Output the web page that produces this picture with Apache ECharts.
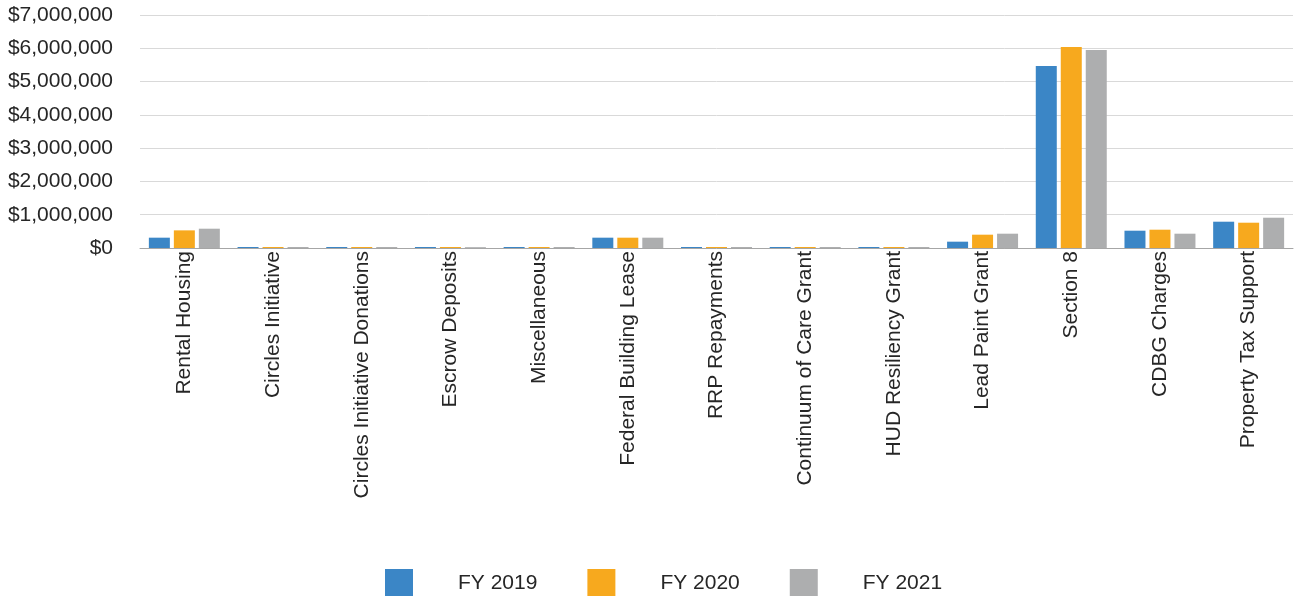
<!DOCTYPE html>
<html>
<head>
<meta charset="utf-8">
<script src="https://cdn.jsdelivr.net/npm/echarts@6/dist/echarts.min.js"></script>
<style>
html,body{margin:0;padding:0;background:#fff;}
#chart{width:1294px;height:596px;}
</style>
</head>
<body>
<div id="chart"></div>
<script>
const categories = ["Rental Housing","Circles Initiative","Circles Initiative Donations","Escrow Deposits","Miscellaneous","Federal Building Lease","RRP Repayments","Continuum of Care Grant","HUD Resiliency Grant","Lead Paint Grant","Section 8","CDBG Charges","Property Tax Support"];
const seriesNames = ["FY 2019","FY 2020","FY 2021"];
const fy2019 = [310000, 30000, 30000, 30000, 30000, 310000, 30000, 30000, 30000, 190000, 5470000, 520000, 790000];
const fy2020 = [530000, 30000, 30000, 30000, 30000, 310000, 30000, 30000, 30000, 400000, 6040000, 550000, 760000];
const fy2021 = [580000, 30000, 30000, 25000, 30000, 310000, 30000, 30000, 30000, 430000, 5950000, 430000, 910000];
const yTicks = {min: 0, max: 7000000, interval: 1000000};
const colors = ["#3B86C6","#F7A91E","#ADAEAF"];

const chart = echarts.init(document.getElementById('chart'), null, {renderer:'canvas'});
const font = "'Liberation Sans', Arial, sans-serif";
const fmt = v => '$' + v.toLocaleString('en-US');
chart.setOption({
  animation: false,
  color: colors,
  textStyle: {fontFamily: font},
  grid: {left: 140, right: 1, top: 15, bottom: 348, containLabel: false},
  legend: {
    left: 385, top: 569, padding: 0,
    itemWidth: 28, itemHeight: 28, itemGap: 50,
    icon: 'rect',
    textStyle: {fontSize: 21, color: '#262626', fontFamily: font, padding: [0,0,0,40]},
    data: seriesNames
  },
  xAxis: {
    type: 'category',
    data: categories,
    axisLine: {lineStyle: {color: '#A6A6A6', width: 1}},
    axisTick: {show: false},
    axisLabel: {rotate: 90, fontSize: 21, color: '#262626', margin: 3, interval: 0, fontFamily: font}
  },
  yAxis: {
    type: 'value',
    min: yTicks.min, max: yTicks.max, interval: yTicks.interval,
    axisLine: {show: false},
    axisTick: {show: false},
    splitLine: {lineStyle: {color: '#D9D9D9', width: 1}},
    axisLabel: {fontSize: 21, color: '#262626', margin: 27, formatter: fmt, fontFamily: font}
  },
  series: [
    {name: seriesNames[0], type: 'bar', data: fy2019, barWidth: 21, barGap: '19%'},
    {name: seriesNames[1], type: 'bar', data: fy2020, barWidth: 21, barGap: '19%'},
    {name: seriesNames[2], type: 'bar', data: fy2021, barWidth: 21, barGap: '19%'}
  ]
});
</script>
</body>
</html>
